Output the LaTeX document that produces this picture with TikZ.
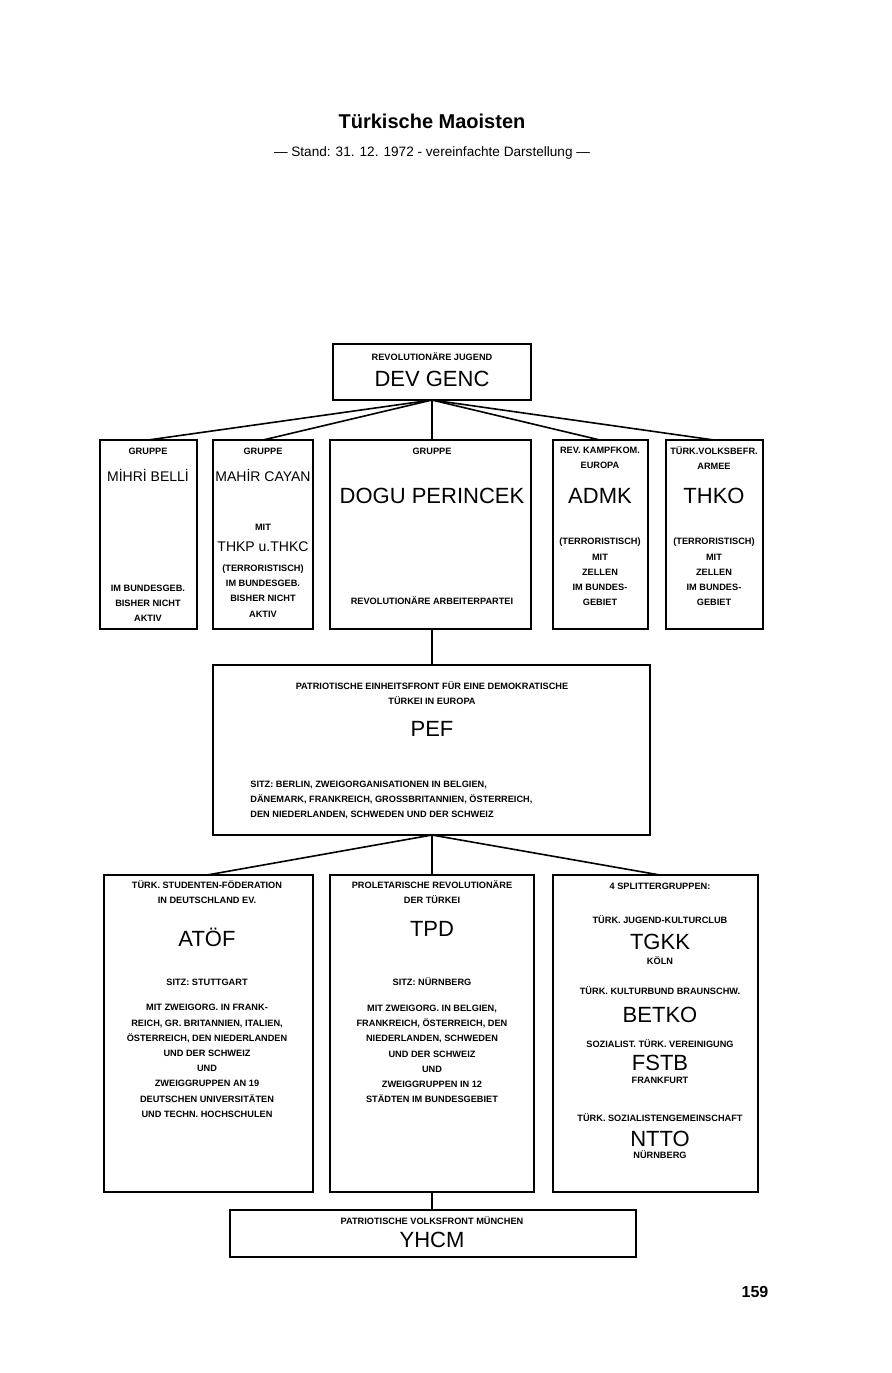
\documentclass[tikz,border=0pt]{standalone}
\usepackage{fontspec}
\setmainfont{Liberation Sans}
\begin{document}
\begin{tikzpicture}[x=0.5pt,y=-0.5pt,
  box/.style={draw,line width=0.8pt},
  ln/.style={line width=0.8pt},
  sm/.style={font=\fontsize{4.6}{7.6}\selectfont\bfseries,align=center,inner sep=0pt},
  bg/.style={font=\fontsize{11}{13}\selectfont,align=center,inner sep=0pt},
  md/.style={font=\fontsize{7}{9}\selectfont,align=center,inner sep=0pt}]
\useasboundingbox (0,0) rectangle (891,1373);
\node[font=\fontsize{10}{12}\selectfont\bfseries] (title) at (432,121) {Türkische Maoisten};
\node[font=\fontsize{6.8}{8}\selectfont] (sub) at (432,153) {— Stand: 31. 12. 1972 - vereinfachte Darstellung —};
\node[font=\fontsize{8}{10}\selectfont\bfseries] (pg) at (755,1292) {159};
% DEV GENC
\draw[box] (333,344) rectangle (531,400);
\coordinate (dg) at (432,400);
\node[sm] (dg1) at (432,357) {REVOLUTIONÄRE JUGEND};
\node[bg] (dg2) at (432,379) {DEV GENC};
% row 2
\draw[box] (100,440) rectangle (197,629);
\draw[box] (213,440) rectangle (313,629);
\draw[box] (330,440) rectangle (531,629);
\draw[box] (553,440) rectangle (648,629);
\draw[box] (666,440) rectangle (763,629);
\coordinate (t1) at (148,440);\coordinate (t2) at (263,440);\coordinate (t3) at (432,440);
\coordinate (t4) at (600,440);\coordinate (t5) at (714,440);
\foreach \t in {t1,t2,t3,t4,t5} \draw[ln] (dg) -- (\t);
\node[sm] (a1) at (148,451) {GRUPPE};
\node[md] (a2) at (148,475) {MİHRİ BELLİ};
\node[sm] (a3) at (148,603) {IM BUNDESGEB.\\BISHER NICHT\\AKTIV};
\node[sm] (b1) at (263,451) {GRUPPE};
\node[md] (b2) at (263,475) {MAHİR CAYAN};
\node[sm] (b3) at (263,527) {MIT};
\node[md] (b4) at (263,547) {THKP u.THKC};
\node[sm] (b5) at (263,591) {(TERRORISTISCH)\\IM BUNDESGEB.\\BISHER NICHT\\AKTIV};
\node[sm] (c1) at (432,451) {GRUPPE};
\node[bg] (c2) at (432,496) {DOGU PERINCEK};
\node[sm] (c3) at (432,601) {REVOLUTIONÄRE ARBEITERPARTEI};
\node[sm] (d1) at (600,458) {REV. KAMPFKOM.\\EUROPA};
\node[bg] (d2) at (600,496) {ADMK};
\node[sm] (d3) at (600,572) {(TERRORISTISCH)\\MIT\\ZELLEN\\IM BUNDES-\\GEBIET};
\node[sm] (e1) at (714,458) {TÜRK.VOLKSBEFR.\\ARMEE};
\node[bg] (e2) at (714,496) {THKO};
\node[sm] (e3) at (714,572) {(TERRORISTISCH)\\MIT\\ZELLEN\\IM BUNDES-\\GEBIET};
% PEF
\coordinate (cb) at (432,629);
\draw[box] (213,665) rectangle (650,835);
\coordinate (pt) at (432,665);
\draw[ln] (cb) -- (pt);
\node[sm] (p1) at (432,693) {PATRIOTISCHE EINHEITSFRONT FÜR EINE DEMOKRATISCHE\\TÜRKEI IN EUROPA};
\node[bg] (p2) at (432,729) {PEF};
\node[sm,align=left,anchor=west] (p3) at (250,800) {SITZ: BERLIN, ZWEIGORGANISATIONEN IN BELGIEN,\\DÄNEMARK, FRANKREICH, GROSSBRITANNIEN, ÖSTERREICH,\\DEN NIEDERLANDEN, SCHWEDEN UND DER SCHWEIZ};
% row 4
\coordinate (pb) at (432,835);
\draw[box] (104,875) rectangle (313,1192);
\draw[box] (330,875) rectangle (534,1192);
\draw[box] (553,875) rectangle (758,1192);
\coordinate (u1) at (207,875);\coordinate (u2) at (432,875);\coordinate (u3) at (660,875);
\foreach \t in {u1,u2,u3} \draw[ln] (pb) -- (\t);
\node[sm] (f1) at (207,892) {TÜRK. STUDENTEN-FÖDERATION\\IN DEUTSCHLAND EV.};
\node[bg] (f2) at (207,937) {ATÖF};
\node[sm] (f3) at (207,982) {SITZ: STUTTGART};
\node[sm] (f4) at (207,1061) {MIT ZWEIGORG. IN FRANK-\\REICH, GR. BRITANNIEN, ITALIEN,\\ÖSTERREICH, DEN NIEDERLANDEN\\UND DER SCHWEIZ\\UND\\ZWEIGGRUPPEN AN 19\\DEUTSCHEN UNIVERSITÄTEN\\UND TECHN. HOCHSCHULEN};
\node[sm] (g1) at (432,892) {PROLETARISCHE REVOLUTIONÄRE\\DER TÜRKEI};
\node[bg] (g2) at (432,929) {TPD};
\node[sm] (g3) at (432,982) {SITZ: NÜRNBERG};
\node[sm] (g4) at (432,1054) {MIT ZWEIGORG. IN BELGIEN,\\FRANKREICH, ÖSTERREICH, DEN\\NIEDERLANDEN, SCHWEDEN\\UND DER SCHWEIZ\\UND\\ZWEIGGRUPPEN IN 12\\STÄDTEN IM BUNDESGEBIET};
\node[sm] (h1) at (660,886) {4 SPLITTERGRUPPEN:};
\node[sm] (h2) at (660,920) {TÜRK. JUGEND-KULTURCLUB};
\node[bg] (h3) at (660,942) {TGKK};
\node[sm] (h4) at (660,961) {KÖLN};
\node[sm] (h5) at (660,991) {TÜRK. KULTURBUND BRAUNSCHW.};
\node[bg] (h6) at (660,1015) {BETKO};
\node[sm] (h7) at (660,1044) {SOZIALIST. TÜRK. VEREINIGUNG};
\node[bg] (h8) at (660,1063) {FSTB};
\node[sm] (h9) at (660,1080) {FRANKFURT};
\node[sm] (h10) at (660,1118) {TÜRK. SOZIALISTENGEMEINSCHAFT};
\node[bg] (h11) at (660,1139) {NTTO};
\node[sm] (h12) at (660,1155) {NÜRNBERG};
% YHCM
\coordinate (gb) at (432,1192);
\draw[box] (230,1210) rectangle (636,1257);
\coordinate (yt) at (432,1210);
\draw[ln] (gb) -- (yt);
\node[sm] (y1) at (432,1221) {PATRIOTISCHE VOLKSFRONT MÜNCHEN};
\node[bg] (y2) at (432,1240) {YHCM};
\end{tikzpicture}
\end{document}
